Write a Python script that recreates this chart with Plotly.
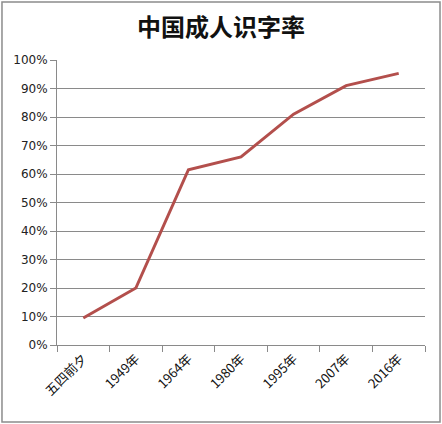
import plotly.graph_objects as go

CATEGORIES = ["五四前夕", "1949年", "1964年", "1980年", "1995年", "2007年", "2016年"]
LITERACY = [0.095, 0.20, 0.615, 0.66, 0.81, 0.91, 0.953]
Y_TICKS = [i / 10 for i in range(11)]

LINE_COLOR = "#B34F4C"
GRID_COLOR = "#8A8A8A"
FONT_CJK = "Noto Sans CJK SC"

fig = go.Figure(
    go.Scatter(
        x=CATEGORIES,
        y=LITERACY,
        mode="lines",
        line={"color": LINE_COLOR, "width": 3},
        hovertemplate="%{x}: %{y:.1%}<extra></extra>",
    )
)

fig.update_layout(
    width=442,
    height=424,
    margin={"l": 57, "r": 17, "t": 60, "b": 79},
    paper_bgcolor="white",
    plot_bgcolor="white",
    showlegend=False,
    title={
        "text": "<b>中国成人识字率</b>",
        "x": 0.5,
        "xanchor": "center",
        "y": 0.935,
        "yanchor": "middle",
        "font": {"family": FONT_CJK, "size": 24, "color": "#111111"},
    },
    font={"family": "DejaVu Sans", "color": "#222222"},
    xaxis={
        "type": "category",
        "range": [-0.5, 6.5],
        "tickson": "boundaries",
        "ticks": "outside",
        "ticklen": 6,
        "tickcolor": GRID_COLOR,
        "showline": True,
        "linecolor": GRID_COLOR,
        "showgrid": False,
        "tickangle": -45,
        "tickfont": {"family": FONT_CJK, "size": 13, "color": "#111111"},
    },
    yaxis={
        "range": [0, 1.0],
        "tickvals": Y_TICKS,
        "tickformat": ".0%",
        "ticks": "outside",
        "ticklen": 6,
        "tickcolor": GRID_COLOR,
        "showline": True,
        "linecolor": GRID_COLOR,
        "showgrid": True,
        "gridcolor": GRID_COLOR,
        "gridwidth": 1,
        "zeroline": False,
        "tickfont": {"family": "DejaVu Sans", "size": 12, "color": "#222222"},
    },
    shapes=[
        {
            "type": "rect",
            "xref": "paper",
            "yref": "paper",
            "x0": -0.1495,
            "x1": 1.0408,
            "y0": -0.270,
            "y1": 1.2035,
            "line": {"color": "#8C8C8C", "width": 1.5},
            "fillcolor": "rgba(0,0,0,0)",
            "layer": "below",
        }
    ],
)

fig.write_html(
    "out.html",
    config={"displayModeBar": False},
    post_script="document.body.style.margin = '0';",
)
